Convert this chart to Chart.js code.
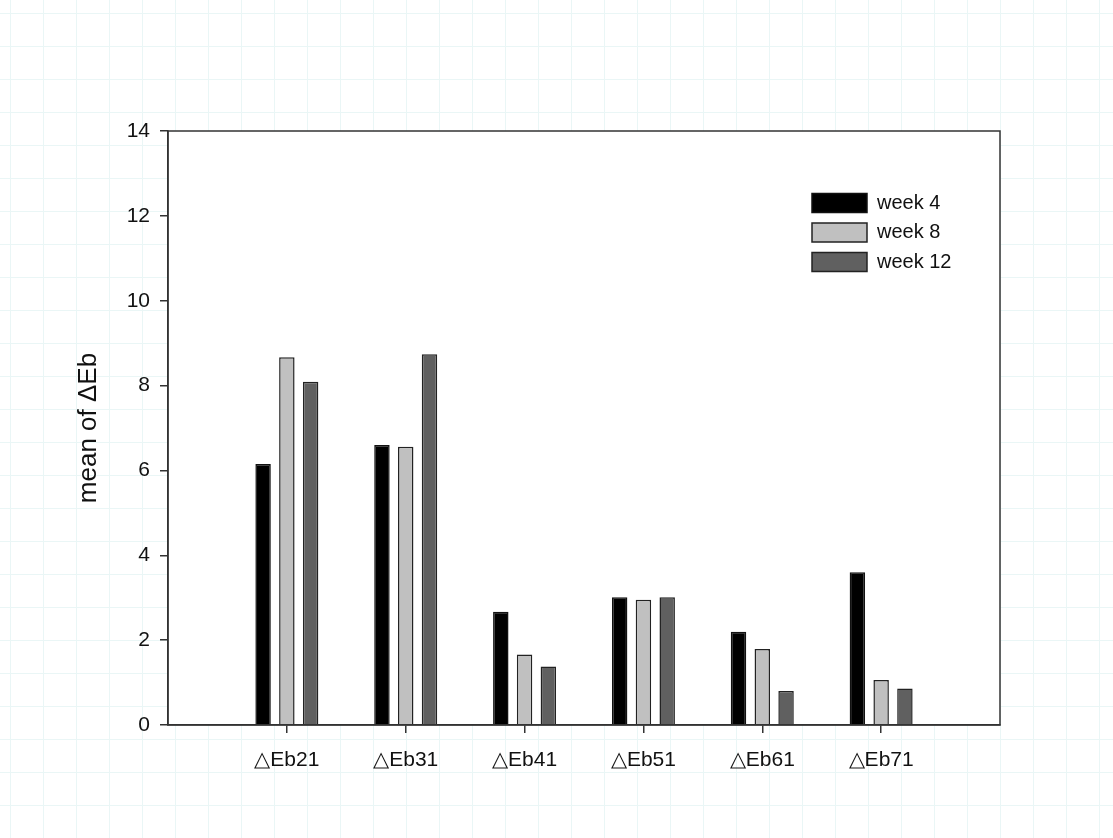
<!DOCTYPE html>
<html lang="en">
    <head>
        <meta charset="UTF-8">
        <title>mean of ΔEb</title>
        <style>
            body {
                margin: 0;
                background-color: #fff;
                background-image:
                    linear-gradient(to right, #eaf6f6 1px, transparent 1px),
                    linear-gradient(to bottom, #eaf6f6 1px, transparent 1px);
                background-size: 33px 33px;
                background-position: 10px 13px;
            }
            #wrap { width: 1113px; height: 838px; }
        </style>
    </head>
    <body>
        <div id="wrap">
            <canvas id="myChart" width="1113" height="838"></canvas>
        </div>
        <script src="https://cdn.jsdelivr.net/npm/chart.js@4.4.1/dist/chart.umd.min.js"></script>
        <script>
            // values
            const categories = ['△Eb21', '△Eb31', '△Eb41', '△Eb51', '△Eb61', '△Eb71'];
            const week4 = [6.15, 6.60, 2.67, 3.01, 2.20, 3.60];
            const week8 = [8.67, 6.56, 1.66, 2.95, 1.79, 1.06];
            const week12 = [8.09, 8.74, 1.38, 3.01, 0.80, 0.86];
            const yTicks = [0, 2, 4, 6, 8, 10, 12, 14];

            // empty slot on each side so the groups sit like the original
            const pad = arr => [null].concat(arr, [null]);
            const labels = [''].concat(categories, ['']);

            const frame = {
                id: 'frame',
                beforeDraw(chart) {
                    const a = chart.chartArea;
                    const c = chart.ctx;
                    c.save();
                    c.fillStyle = '#fff';
                    c.fillRect(a.left, a.top, a.right - a.left, a.bottom - a.top);
                    c.restore();
                },
                afterDraw(chart) {
                    const a = chart.chartArea;
                    const c = chart.ctx;
                    c.save();
                    c.strokeStyle = '#333';
                    c.lineWidth = 1.5;
                    c.strokeRect(a.left, a.top, a.right - a.left, a.bottom - a.top);
                    c.restore();
                },
                afterLayout(chart) {
                    // put the legend in the upper right of the plot
                    const lg = chart.legend;
                    const w = lg.right - lg.left, h = lg.bottom - lg.top;
                    lg.left = 802.5;
                    lg.top = 183.5;
                    lg.right = lg.left + w;
                    lg.bottom = lg.top + h;
                }
            };

            const tickColor = ctx => (ctx.index === 0 || ctx.index === labels.length - 1) ? 'transparent' : '#333';

            new Chart(document.getElementById('myChart'), {
                type: 'bar',
                data: {
                    labels: labels,
                    datasets: [
                        { label: 'week 4', data: pad(week4), backgroundColor: '#000', borderColor: '#111', borderWidth: 1.5 },
                        { label: 'week 8', data: pad(week8), backgroundColor: '#c0c0c0', borderColor: '#222', borderWidth: 1.5 },
                        { label: 'week 12', data: pad(week12), backgroundColor: '#606060', borderColor: '#222', borderWidth: 1.5 }
                    ]
                },
                options: {
                    responsive: false,
                    animation: false,
                    layout: { padding: { top: 131, right: 113, left: 0, bottom: 0 } },
                    datasets: { bar: { categoryPercentage: 0.6, barPercentage: 0.65 } },
                    plugins: {
                        tooltip: { enabled: false },
                        legend: {
                            position: 'chartArea',
                            align: 'start',
                            labels: {
                                boxWidth: 55,
                                boxHeight: 19,
                                padding: 9.5,
                                color: '#111',
                                font: { family: 'Liberation Sans, Arial', size: 20 }
                            }
                        }
                    },
                    scales: {
                        x: {
                            offset: false,
                            grid: { offset: false, drawOnChartArea: false, tickLength: 8, color: tickColor, lineWidth: 1.5 },
                            border: { color: '#333', width: 1.5 },
                            ticks: {
                                color: '#111',
                                padding: 15,
                                maxRotation: 0,
                                autoSkip: false,
                                font: { family: 'Liberation Sans, Arial', size: 21 }
                            },
                            afterFit(scale) { scale.height = 113; }
                        },
                        y: {
                            min: 0,
                            max: 14,
                            afterBuildTicks(scale) { scale.ticks = yTicks.map(v => ({ value: v })); },
                            grid: { drawOnChartArea: false, tickLength: 8, color: '#333', lineWidth: 1.5 },
                            border: { color: '#333', width: 1.5 },
                            ticks: {
                                color: '#111',
                                padding: 10,
                                font: { family: 'Liberation Sans, Arial', size: 21 }
                            },
                            title: {
                                display: true,
                                text: 'mean of ΔEb',
                                color: '#111',
                                padding: { top: 73, bottom: 0 },
                                font: { family: 'Liberation Sans, Arial', size: 26 }
                            },
                            afterFit(scale) { scale.width = 168; }
                        }
                    }
                },
                plugins: [frame]
            });
        </script>
    </body>
</html>
